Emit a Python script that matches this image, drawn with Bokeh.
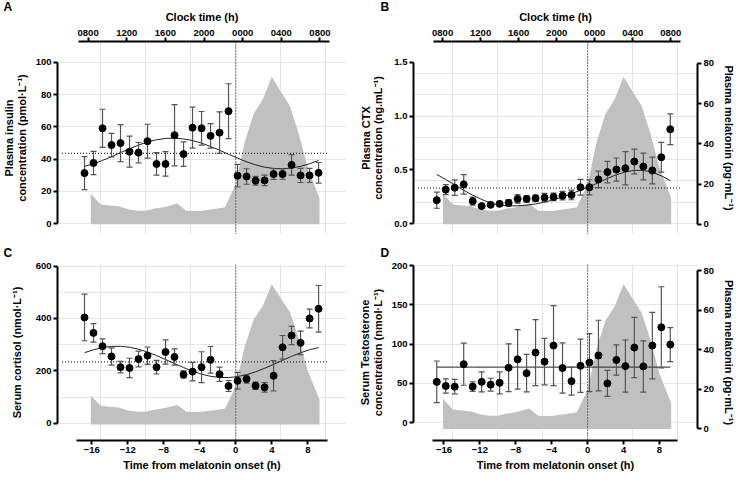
from bokeh.plotting import figure
from bokeh.models import Range1d, LinearAxis, FixedTicker, Span, Title
from bokeh.layouts import column, row
from bokeh.embed import file_html
from bokeh.resources import INLINE

FONT = "Liberation Sans"

# ---------------- data ----------------
t_pts = [-16.8, -15.8, -14.8, -13.8, -12.8, -11.8, -10.8, -9.8, -8.8, -7.8, -6.8, -5.8, -4.8,
         -3.8, -2.8, -1.8, -0.8, 0.2, 1.2, 2.2, 3.2, 4.2, 5.2, 6.2, 7.2, 8.2, 9.2]

insulin = [31.3, 37.6, 59.1, 48.7, 49.9, 44.6, 44.0, 51.1, 37.0, 37.0, 54.8, 43.1, 59.5, 59.1,
           54.4, 56.4, 69.7, 29.7, 29.2, 26.6, 26.8, 30.7, 30.7, 36.4, 29.9, 29.9, 31.5]
insulin_sem = [10.2, 7.2, 11.8, 7.3, 11.5, 9.6, 6.3, 10.5, 7.0, 7.6, 19.0, 7.6, 12.7, 10.4,
               7.6, 12.9, 17.0, 7.0, 4.8, 2.7, 3.3, 3.3, 3.2, 6.4, 4.4, 4.4, 6.4]
insulin_fit = [35.5, 37.1, 39.2, 41.5, 44.0, 46.4, 48.7, 50.6, 52.0, 52.8, 53.0, 52.5, 51.5, 49.9,
               47.8, 45.5, 43.0, 40.6, 38.3, 36.4, 35.0, 34.2, 34.0, 34.5, 35.5, 37.1, 39.2]
insulin_mesor = 43.6

ctx = [0.218, 0.316, 0.334, 0.365, 0.209, 0.163, 0.175, 0.184, 0.193, 0.230, 0.230, 0.236, 0.242,
       0.248, 0.260, 0.267, 0.338, 0.338, 0.411, 0.479, 0.503, 0.515, 0.577, 0.531, 0.494, 0.617, 0.877]
ctx_sem = [0.075, 0.046, 0.072, 0.090, 0.038, 0.015, 0.015, 0.020, 0.030, 0.040, 0.030, 0.030, 0.040,
           0.035, 0.040, 0.045, 0.073, 0.070, 0.077, 0.100, 0.107, 0.155, 0.115, 0.125, 0.125, 0.138, 0.143]
ctx_fit = [0.457, 0.410, 0.360, 0.310, 0.265, 0.225, 0.190, 0.172, 0.165, 0.166, 0.172, 0.183, 0.200,
           0.222, 0.248, 0.278, 0.310, 0.345, 0.380, 0.420, 0.455, 0.480, 0.495, 0.495, 0.478, 0.445, 0.400]
ctx_mesor = 0.331

cortisol = [404, 345, 294, 255, 214, 211, 245, 258, 214, 272, 253, 186, 197, 214, 242, 187, 142,
            162, 169, 143, 137, 181, 290, 335, 307, 400, 437]
cortisol_sem = [89, 35, 28, 33, 22, 37, 30, 33, 26, 46, 31, 14, 35, 59, 51, 27, 21, 32, 16, 14, 18,
                58, 45, 35, 45, 36, 89]
cortisol_fit = [269.3, 280.6, 288.8, 293.3, 293.7, 290.0, 282.5, 271.8, 258.4, 243.4, 227.7, 212.5,
                198.7, 187.4, 179.2, 174.7, 174.3, 178.0, 185.5, 196.2, 209.6, 224.6, 240.3, 255.5,
                269.3, 280.6, 288.8]
cortisol_mesor = 234

testosterone = [51.9, 46.6, 45.8, 74.4, 45.8, 51.9, 48.3, 50.7, 69.9, 80.6, 63.0, 89.2, 77.7, 98.2,
                69.5, 52.8, 72.4, 76.5, 85.5, 49.9, 79.8, 72.0, 95.7, 71.6, 98.2, 121.5, 99.4]
testosterone_sem = [26.6, 9.0, 9.2, 26.8, 6.0, 12.8, 8.2, 14.0, 30.5, 38.0, 24.0, 42.0, 29.6, 51.0,
                    32.0, 17.8, 34.0, 37.0, 45.0, 16.6, 19.4, 33.3, 38.5, 32.7, 42.4, 51.7, 21.7]
testosterone_fit = [70.7] * len(t_pts)

mel_t = [-16.1, -15.0, -14.0, -13.0, -12.0, -11.0, -10.0, -9.0, -8.0, -6.5, -5.5, -4.0, -3.0,
         -2.0, -1.2, 0.0, 1.0, 2.0, 3.0, 4.0, 5.0, 6.0, 7.0, 8.0, 9.3]
mel_v = [15.2, 9.8, 9.3, 8.9, 7.4, 6.7, 6.7, 7.8, 8.5, 10.3, 6.7, 6.6, 7.2, 7.8, 8.4, 20.0, 41.0,
         55.0, 62.0, 73.4, 66.0, 59.0, 45.0, 28.0, 13.0]

onset_ticks = [-16, -12, -8, -4, 0, 4, 8]
onset_labels = ["\u221216", "\u221212", "\u22128", "\u22124", "0", "4", "8"]
clock_ticks = [8, 12, 16, 20, 24, 28, 32]
clock_labels = ["0800", "1200", "1600", "2000", "0000", "0400", "0800"]
mel_ticks = [0, 20, 40, 60, 80]

MEL_COLOR = "#c0c0c0"
ERR_COLOR = "#555555"


def style_axis(ax, ticks, labels, bounds, label_standoff):
    ax.ticker = FixedTicker(ticks=ticks)
    ax.major_label_overrides = {t: l for t, l in zip(ticks, labels)}
    ax.bounds = bounds
    ax.axis_line_width = 2
    ax.axis_line_color = "black"
    ax.major_tick_line_width = 2
    ax.major_tick_out = 4
    ax.major_tick_in = 0
    ax.minor_tick_line_color = None
    ax.major_label_text_font = FONT
    ax.major_label_text_font_style = "bold"
    ax.major_label_text_font_size = "9.5px"
    ax.major_label_text_color = "black"
    ax.major_label_standoff = 2
    ax.axis_label_text_font = FONT
    ax.axis_label_text_font_style = "bold"
    ax.axis_label_text_font_size = "11px"
    ax.axis_label_text_color = "black"
    ax.axis_label_text_line_height = 1.05
    ax.axis_label_standoff = label_standoff


def make_panel(w, h, borders, xr, yr, mr, ylab, yticks, ylabels, ylab_standoff,
               vals, sems, fit, mesor, letter, letter_offset,
               clock=None, bottom=None, right_axis=False):
    l, r, t, b = borders
    p = figure(width=w, height=h, x_range=Range1d(*xr), y_range=Range1d(*yr),
               x_axis_location=None, y_axis_location=None,
               output_backend="svg", toolbar_location=None,
               min_border_left=l, min_border_right=r, min_border_top=t, min_border_bottom=b)
    p.outline_line_color = None
    p.background_fill_color = "white"
    p.extra_y_ranges = {"mel": Range1d(*mr)}

    # melatonin profile
    p.varea(x=mel_t, y1=0, y2=mel_v, y_range_name="mel", fill_color=MEL_COLOR)

    if mesor is not None:
        p.line(x=[xr[0] + 0.5, 10.3], y=[mesor, mesor], line_color="black",
               line_width=1, line_dash="1 2")
    p.line(x=t_pts, y=fit, line_color="#222222", line_width=1)

    up = [v + s for v, s in zip(vals, sems)]
    lo = [v - s for v, s in zip(vals, sems)]
    p.segment(x0=t_pts, y0=lo, x1=t_pts, y1=up, line_color=ERR_COLOR, line_width=1.2)
    p.scatter(x=t_pts, y=up, marker="dash", size=6, line_color=ERR_COLOR, line_width=1.2)
    p.scatter(x=t_pts, y=lo, marker="dash", size=6, line_color=ERR_COLOR, line_width=1.2)
    p.scatter(x=t_pts, y=vals, size=7, fill_color="black", line_color="black")

    p.add_layout(Span(location=0, dimension="height", line_color="black",
                      line_width=1, line_dash="1 2"))

    yax = LinearAxis(axis_label=ylab)
    style_axis(yax, yticks, ylabels, (yticks[0], yticks[-1]), ylab_standoff)
    p.add_layout(yax, "left")

    if right_axis:
        rax = LinearAxis(y_range_name="mel", axis_label="Plasma melatonin (pg\u00b7mL\u207b\u00b9)")
        style_axis(rax, mel_ticks, [str(v) for v in mel_ticks], (0, 80), 6)
        p.add_layout(rax, "right")

    if clock is not None:
        t8a, t8b, cb = clock
        k = 24.0 / (t8b - t8a)
        p.extra_x_ranges = {"clock": Range1d(8 + (xr[0] - t8a) * k, 8 + (xr[1] - t8a) * k)}
        cax = LinearAxis(x_range_name="clock", axis_label="Clock time (h)")
        style_axis(cax, clock_ticks, clock_labels, cb, 4)
        p.add_layout(cax, "above")
        ttl = Title(text=letter, align="left", offset=letter_offset, vertical_align="middle",
                    standoff=-14, text_font=FONT, text_font_style="bold",
                    text_font_size="12px", text_color="black")
    else:
        ttl = Title(text=letter, align="left", offset=letter_offset, vertical_align="bottom",
                    standoff=10, text_font=FONT, text_font_style="bold",
                    text_font_size="12px", text_color="black")
    p.add_layout(ttl, "above")

    if bottom is not None:
        bax = LinearAxis(axis_label="Time from melatonin onset (h)")
        style_axis(bax, onset_ticks, onset_labels, bottom, 3)
        p.add_layout(bax, "below")
    return p


XR_L = (-19.8, 12.3)
XR_R = (-19.39, 12.23)

pA = make_panel(353, 234, (57, 7, 41, 0), XR_L, (-6.75, 112.9), (-5.1, 90.9),
                "Plasma insulin\nconcentration (pmol\u00b7L\u207b\u00b9)",
                [0, 20, 40, 60, 80, 100], ["0", "20", "40", "60", "80", "100"], 5,
                insulin, insulin_sem, insulin_fit, insulin_mesor, "A", -54,
                clock=(-16.4, 9.35, (7.0, 33.0)))

pB = make_panel(385, 234, (60, 37, 41, 0), XR_R, (-0.101, 1.693), (-5.1, 90.9),
                "Plasma CTX\nconcentration (ng.mL\u207b\u00b9)",
                [0, 0.5, 1.0, 1.5], ["0.0", "0.5", "1.0", "1.5"], 7,
                ctx, ctx_sem, ctx_fit, ctx_mesor, "B", -33,
                clock=(-16.15, 9.25, (7.0, 33.0)), right_axis=True)

pC = make_panel(353, 239, (57, 7, 30, 33), XR_L, (-66.1, 606.2), (-8.3, 83.7),
                "Serum cortisol (nmol\u00b7L\u207b\u00b9)",
                [0, 200, 400, 600], ["0", "200", "400", "600"], 10,
                cortisol, cortisol_sem, cortisol_fit, cortisol_mesor, "C", -54,
                bottom=(-17.7, 10.2))

pD = make_panel(385, 239, (60, 37, 30, 33), XR_R, (-22.9, 201.6), (-5.84, 83.26),
                "Serum Testosterone\nconcentration (nmol\u00b7L\u207b\u00b9)",
                [0, 50, 100, 150, 200], ["0", "50", "100", "150", "200"], 5,
                testosterone, testosterone_sem, testosterone_fit, None, "D", -33,
                bottom=(-17.3, 10.0), right_axis=True)

layout = column(row(pA, pB), row(pC, pD))
open("out.html", "w").write(file_html(layout, INLINE))
